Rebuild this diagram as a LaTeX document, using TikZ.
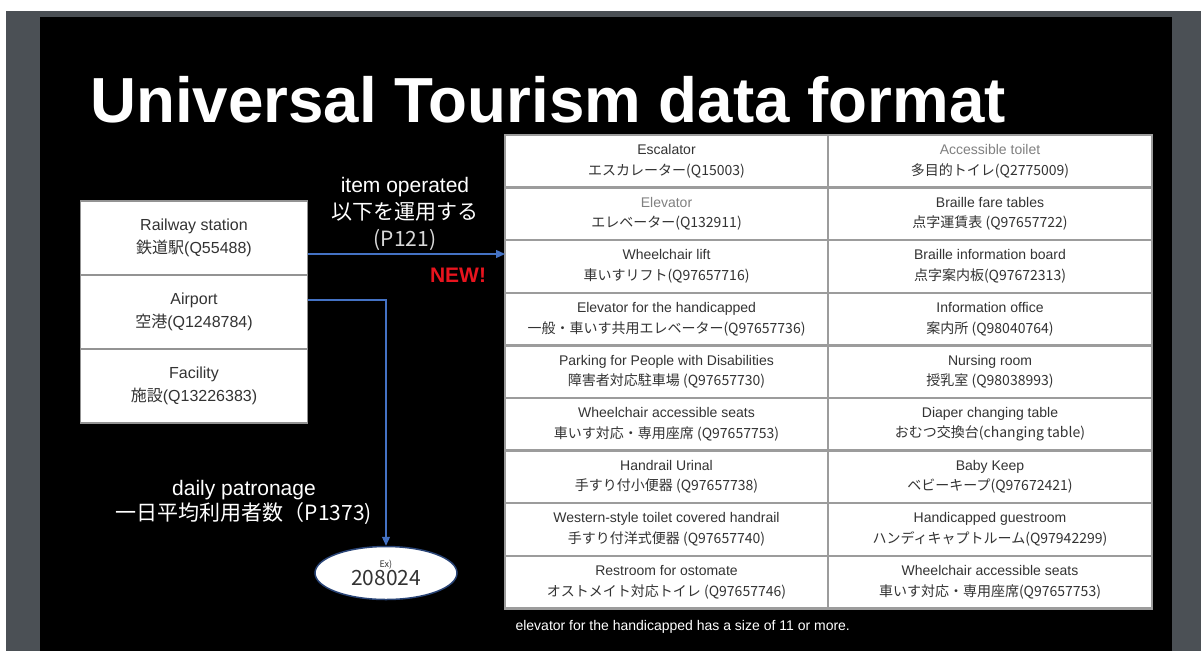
\documentclass[tikz,border=0pt]{standalone}
\usepackage{fontspec}
\setmainfont{Liberation Sans}
\newfontfamily\jpfont{Noto Sans CJK JP}
\usetikzlibrary{arrows.meta,shapes.geometric,positioning}

\definecolor{slidegray}{HTML}{4B5055}
\definecolor{cellgray}{HTML}{9C9C9C}
\definecolor{celltext}{HTML}{333333}
\definecolor{linkblue}{HTML}{4472C4}
\definecolor{newred}{HTML}{E8141E}

\begin{document}
\begin{tikzpicture}[x=1pt,y=-1pt,
    place/.style={draw=gray!85,line width=1.8pt,fill=white,outer sep=0pt,
        minimum width=227pt,minimum height=74pt,align=center,text=celltext,
        font=\fontsize{16}{23}\selectfont},
    cell/.style={draw=cellgray,line width=2.5pt,fill=white,outer sep=0pt,inner sep=0pt,
        minimum height=52.6pt,align=center,text=celltext,
        font=\fontsize{14}{20.5}\selectfont},
    link/.style={linkblue,line width=1.2pt,-{Triangle[length=9pt,width=8pt]}},
    whitetext/.style={text=white,align=center}]

    % slide
    \fill[white] (0,0) rectangle (1201,651);
    \fill[slidegray] (6,11) rectangle (1201,651);
    \fill[black] (40,17) rectangle (1172,651);
    \useasboundingbox (0,0) rectangle (1201,651);

    \node[anchor=base west,inner sep=0pt,text=white,
        font=\fontsize{63.7}{64}\selectfont\bfseries] (title) at (90,122)
        {Universal Tourism data format};

    % places
    \node[place] (rail) at (194,238) {Railway station\\{\jpfont 鉄道駅}(Q55488)};
    \node[place,below=0pt of rail] (airport) {Airport\\{\jpfont 空港}(Q1248784)};
    \node[place,below=0pt of airport] (facility) {Facility\\{\jpfont 施設}(Q13226383)};

    % equipment table
    \foreach \la/\lb/\ra/\rb [count=\i] in {
        Escalator/エスカレーター(Q15003)/{\color{gray}Accessible toilet}/多目的トイレ(Q2775009),
        {\color{gray}Elevator}/エレベーター(Q132911)/Braille fare tables/点字運賃表 (Q97657722),
        Wheelchair lift/車いすリフト(Q97657716)/Braille information board/点字案内板(Q97672313),
        Elevator for the handicapped/一般・車いす共用エレベーター(Q97657736)/Information office/案内所 (Q98040764),
        Parking for People with Disabilities/障害者対応駐車場 (Q97657730)/Nursing room/授乳室 (Q98038993),
        Wheelchair accessible seats/車いす対応・専用座席 (Q97657753)/Diaper changing table/おむつ交換台(changing table),
        Handrail Urinal/手すり付小便器 (Q97657738)/Baby Keep/ベビーキープ(Q97672421),
        Western-style toilet covered handrail/手すり付洋式便器 (Q97657740)/Handicapped guestroom/ハンディキャプトルーム(Q97942299),
        Restroom for ostomate/オストメイト対応トイレ (Q97657746)/Wheelchair accessible seats/車いす対応・専用座席(Q97657753)} {
        \node[cell,minimum width=323pt] (left\i) at (666.5,{135+52.6*(\i-0.5)}) {\la\\{\jpfont \lb}};
        \node[cell,minimum width=324pt] (right\i) at (990,{135+52.6*(\i-0.5)}) {\ra\\{\jpfont \rb}};
    }

    % item operated
    \coordinate (railout) at ([yshift=-16pt]rail.east);
    \draw[link] (railout) -- (railout -| left3.west);
    \node[whitetext,font=\fontsize{21}{27}\selectfont] (operated) at (405,214)
        {item operated\\{\jpfont 以下を運用する}\\{\jpfont\color{white!85!black}(P121)}};
    \node[text=newred,font=\fontsize{21}{21}\selectfont\bfseries] (new) at (458,275) {NEW!};

    % daily patronage
    \node[ellipse,draw=linkblue!60!black,line width=1.5pt,fill=white,
        minimum width=142pt,minimum height=53pt,inner sep=0pt,align=center,
        text=celltext,font=\jpfont\fontsize{21}{16}\selectfont] (count) at (386,573)
        {{\fontsize{9}{9}\selectfont Ex)}\\208024};
    \coordinate (airportout) at ([yshift=12pt]airport.east);
    \draw[link] (airportout) -| (count.north);
    \node[whitetext,font=\fontsize{21}{25}\selectfont] (patronage) at (244,502)
        {daily patronage\\{\jpfont 一日平均利用者数（P1373)}};

    \node[anchor=west,text=white,font=\fontsize{14}{14}\selectfont] (note) at (512,627)
        {elevator for the handicapped has a size of 11 or more.};
\end{tikzpicture}
\end{document}
